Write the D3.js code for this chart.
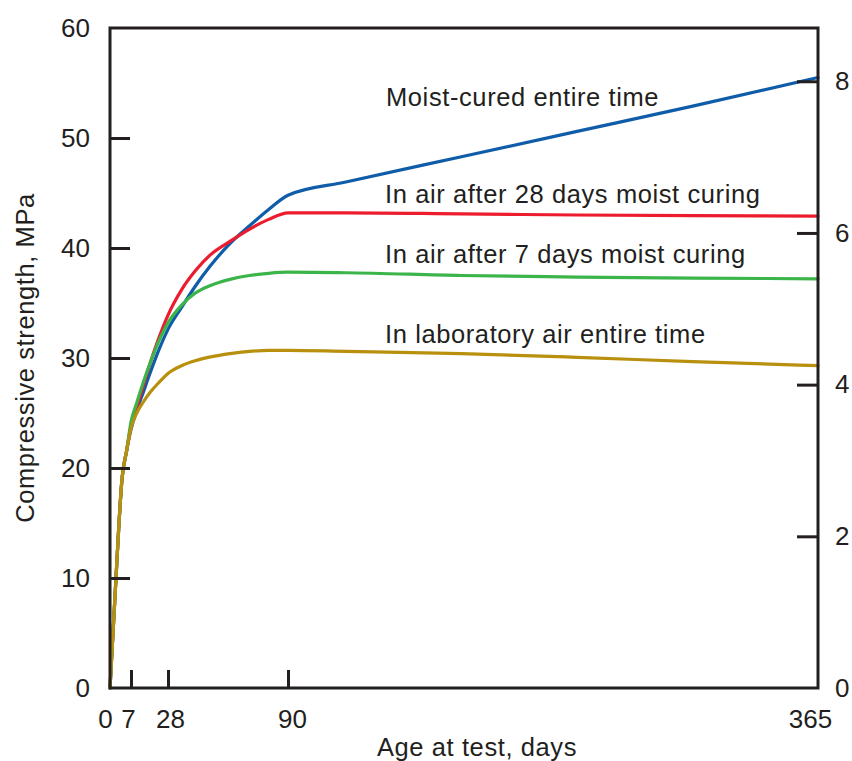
<!DOCTYPE html>
<html>
<head>
<meta charset="utf-8">
<script src="https://cdn.jsdelivr.net/npm/d3@7"></script>
<style>
  html, body { margin: 0; padding: 0; background: #ffffff; }
  svg { display: block; }
  text { font-family: "Liberation Sans", Arial, Helvetica, sans-serif; fill: #231f20; }
</style>
</head>
<body>
<svg id="chart" width="852" height="761"></svg>
<script>
// Age at test (days) shared by every curve
const ageDays = [0, 1, 2, 3, 4, 5.5, 7, 10, 14, 18, 23, 28, 35, 42, 50, 60, 70, 80, 90, 120, 180, 240, 300, 365];

// Compressive strength, MPa, for each curing condition
const moistCuredMPa = [0, 5.0, 10.0, 15.0, 19.0, 21.5, 23.5, 25.1, 26.9, 28.7, 30.8, 32.6, 34.6, 36.5, 38.4, 40.4, 42.0, 43.5, 44.8, 46.0, 48.3, 50.6, 52.9, 55.5];
const air28MPa      = [0, 5.0, 10.0, 15.0, 19.0, 21.5, 23.8, 25.4, 27.5, 29.6, 31.9, 33.9, 36.2, 37.9, 39.4, 40.6, 41.7, 42.6, 43.2, 43.2, 43.1, 43.0, 42.95, 42.9];
const air7MPa       = [0, 5.0, 10.0, 15.0, 19.0, 21.5, 24.2, 25.8, 27.8, 29.6, 31.6, 33.2, 34.8, 35.9, 36.6, 37.15, 37.5, 37.7, 37.8, 37.75, 37.5, 37.36, 37.27, 37.2];
const labAirMPa     = [0, 5.0, 10.0, 15.0, 19.0, 21.5, 23.6, 24.9, 26.0, 26.9, 27.8, 28.6, 29.3, 29.75, 30.1, 30.4, 30.6, 30.7, 30.7, 30.6, 30.4, 30.06, 29.67, 29.3];

const seriesNames = ["Moist-cured entire time", "In air after 28 days moist curing", "In air after 7 days moist curing", "In laboratory air entire time"];
const seriesColors = ["#0f5ca8", "#ec1c2e", "#3bb54a", "#b8900e"];

// Axis ticks
const xTickDays = [0, 7, 28, 90, 365];
const yTicksMPa = [0, 10, 20, 30, 40, 50, 60];
const yTicksKsi = [0, 2, 4, 6, 8];
const MPA_TO_KSI = 0.145038;

const xTitle = "Age at test, days";
const yTitle = "Compressive strength, MPa";

// ---- layout ----
const svg = d3.select("#chart");
const plotLeft = 110, plotRight = 818, plotTop = 28, plotBottom = 688;
const ink = "#231f20";

// The age axis stretches the first four weeks
const x = d3.scaleLinear()
  .domain(xTickDays)
  .range([plotLeft, plotLeft + 21, plotLeft + 58, plotLeft + 178, plotRight]);
const y = d3.scaleLinear().domain([0, 60]).range([plotBottom, plotTop]);
const yKsi = d3.scaleLinear().domain([0, 60 * MPA_TO_KSI]).range([plotBottom, plotTop]);

// per-label horizontal nudges for the crowded age labels
const xLabelShift = { 0: -5, 7: -3, 28: 2, 90: 4, 365: -8 };

// ---- curves ----
const curves = [moistCuredMPa, air28MPa, air7MPa, labAirMPa];
const line = d3.line()
  .x(d => x(d[0]))
  .y(d => y(d[1]))
  .curve(d3.curveMonotoneX);

svg.append("g")
  .selectAll("path")
  .data(curves)
  .join("path")
  .attr("d", vals => line(ageDays.map((d, i) => [d, vals[i]])))
  .attr("fill", "none")
  .attr("stroke", (d, i) => seriesColors[i])
  .attr("stroke-width", 3.2)
  .attr("stroke-linejoin", "round")
  .attr("stroke-linecap", "round");

// ---- axes ----
const tickFont = "26px";

const gLeft = svg.append("g").attr("transform", `translate(${plotLeft},0)`)
  .call(d3.axisLeft(y).tickValues(yTicksMPa).tickSizeInner(-20).tickSizeOuter(0).tickPadding(20));
const gRight = svg.append("g").attr("transform", `translate(${plotRight},0)`)
  .call(d3.axisRight(yKsi).tickValues(yTicksKsi).tickSizeInner(-21).tickSizeOuter(0).tickPadding(17).tickFormat(d3.format("d")));
const gBottom = svg.append("g").attr("transform", `translate(0,${plotBottom})`)
  .call(d3.axisBottom(x).tickValues(xTickDays).tickSizeInner(-18).tickSizeOuter(0).tickPadding(22).tickFormat(d3.format("d")));

[gLeft, gRight, gBottom].forEach(g => {
  g.select(".domain").remove();
  g.selectAll(".tick line").attr("stroke", ink).attr("stroke-width", 3);
  g.selectAll(".tick text").attr("fill", ink).style("font-size", tickFont);
});

gBottom.selectAll(".tick text").attr("dx", d => xLabelShift[d] || 0);
// no tick marks at the frame corners
gBottom.selectAll(".tick").filter(d => d === 0 || d === 365).select("line").remove();
gLeft.selectAll(".tick").filter(d => d === 0 || d === 60).select("line").remove();
gRight.selectAll(".tick").filter(d => d === 0).select("line").remove();

// frame
svg.append("rect")
  .attr("x", plotLeft).attr("y", plotTop)
  .attr("width", plotRight - plotLeft).attr("height", plotBottom - plotTop)
  .attr("fill", "none").attr("stroke", ink).attr("stroke-width", 3);

// ---- titles ----
const labelStyle = sel => sel.style("font-size", "25.5px").style("letter-spacing", "0.6px").attr("fill", ink);

svg.append("text")
  .attr("x", 477).attr("y", 756)
  .attr("text-anchor", "middle")
  .text(xTitle)
  .call(labelStyle);

svg.append("text")
  .attr("transform", "translate(34,358) rotate(-90)")
  .attr("text-anchor", "middle")
  .text(yTitle)
  .call(labelStyle);

// ---- curve labels ----
const labelPos = [[386, 106], [385, 203], [385, 263], [385, 343]];
svg.append("g")
  .selectAll("text")
  .data(seriesNames)
  .join("text")
  .attr("x", (d, i) => labelPos[i][0])
  .attr("y", (d, i) => labelPos[i][1])
  .text(d => d)
  .call(labelStyle);
</script>
</body>
</html>
